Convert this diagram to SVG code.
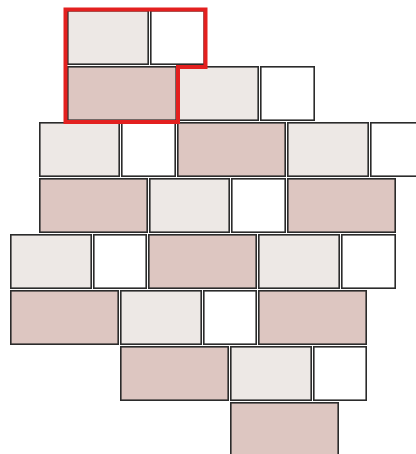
<svg xmlns="http://www.w3.org/2000/svg" width="416" height="454" viewBox="0 0 416 454">
<style>
.b{stroke:#2b2b2b;stroke-width:1.6}
.l{fill:#EDE8E5}
.p{fill:#DDC6C1}
.w{fill:#FFFFFF}
.hl{fill:none;stroke:#E3201F;stroke-width:4;stroke-linejoin:miter}
</style>
<g id="row1">
<rect class="b l" x="67.8" y="10.8" width="80.4" height="53.4"/>
<rect class="b w" x="150.8" y="10.8" width="53.4" height="53.4"/>
</g>
<g id="row2">
<rect class="b p" x="67.8" y="66.8" width="108.4" height="53.4"/>
<rect class="b l" x="178.8" y="66.8" width="79.4" height="53.4"/>
<rect class="b w" x="260.8" y="66.8" width="53.4" height="53.4"/>
</g>
<g id="row3">
<rect class="b l" x="39.8" y="122.8" width="79.4" height="53.4"/>
<rect class="b w" x="121.8" y="122.8" width="53.4" height="53.4"/>
<rect class="b p" x="177.8" y="122.8" width="107.4" height="53.4"/>
<rect class="b l" x="287.8" y="122.8" width="80.4" height="53.4"/>
<rect class="b w" x="370.8" y="122.8" width="53.4" height="53.4"/>
</g>
<g id="row4">
<rect class="b p" x="39.8" y="178.8" width="107.4" height="53.4"/>
<rect class="b l" x="149.8" y="178.8" width="79.4" height="53.4"/>
<rect class="b w" x="231.8" y="178.8" width="53.4" height="53.4"/>
<rect class="b p" x="287.8" y="178.8" width="107.4" height="53.4"/>
</g>
<g id="row5">
<rect class="b l" x="10.8" y="234.8" width="80.4" height="53.4"/>
<rect class="b w" x="93.8" y="234.8" width="52.4" height="53.4"/>
<rect class="b p" x="148.8" y="234.8" width="107.4" height="53.4"/>
<rect class="b l" x="258.8" y="234.8" width="80.4" height="53.4"/>
<rect class="b w" x="341.8" y="234.8" width="53.4" height="53.4"/>
</g>
<g id="row6">
<rect class="b p" x="10.8" y="290.8" width="107.4" height="53.4"/>
<rect class="b l" x="120.8" y="290.8" width="80.4" height="53.4"/>
<rect class="b w" x="203.8" y="290.8" width="52.4" height="53.4"/>
<rect class="b p" x="258.8" y="290.8" width="107.4" height="53.4"/>
</g>
<g id="row7">
<rect class="b p" x="120.8" y="346.8" width="107.4" height="53.4"/>
<rect class="b l" x="230.8" y="346.8" width="80.4" height="53.4"/>
<rect class="b w" x="313.8" y="346.8" width="52.4" height="53.4"/>
</g>
<g id="row8">
<rect class="b p" x="230.8" y="402.8" width="107.4" height="60"/>
</g>
<g id="highlight">
<path class="hl" d="M65.5,9.5 H205.5 V67 H178 V122 H65.5 Z"/>
</g>
</svg>
